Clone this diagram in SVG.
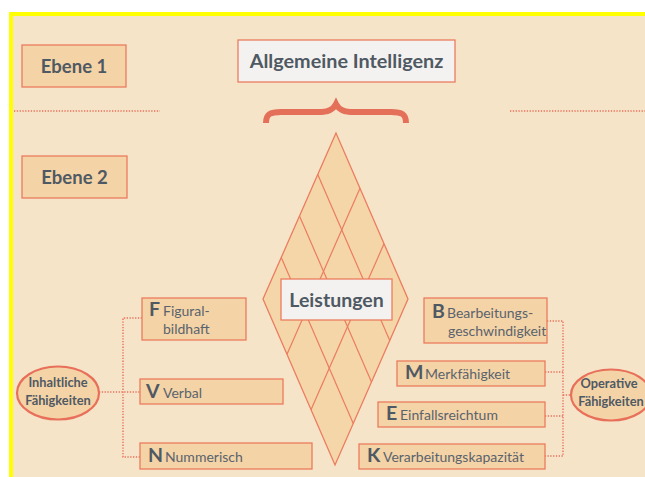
<svg xmlns="http://www.w3.org/2000/svg" width="645" height="477" viewBox="0 0 645 477">
  <style>
    .box { fill: #f4d3a6; stroke: #ec7c5f; stroke-width: 1.3; }
    .wbox { fill: #f4f2f0; stroke: #ec7c5f; stroke-width: 1.3; }
    .oval { fill: #f4d3a6; stroke: #e8705a; stroke-width: 2.2; }
    .dot { fill: none; stroke: #e8705a; stroke-width: 1.4; stroke-dasharray: 1.3 1.5; }
    .grid { fill: none; stroke: #ec7c5f; stroke-width: 1.2; }
    .h { font-family: Lato, "Open Sans", sans-serif; font-weight: 700; fill: #4f5963; }
    .t { font-family: Lato, "Open Sans", sans-serif; font-weight: 400; fill: #5a636d; font-size: 14px; }
    .cap { font-family: Lato, "Open Sans", sans-serif; font-weight: 700; fill: #4f5963; font-size: 19.5px; }
  </style>

  <!-- page with yellow frame -->
  <rect x="0" y="0" width="645" height="477" fill="#ffffff"/>
  <rect x="9" y="12" width="636" height="465" fill="#ffff00"/>
  <rect x="13" y="16" width="632" height="461" fill="#f6e4c9"/>

  <!-- level separators -->
  <g id="separators">
    <line class="dot" x1="14" y1="111" x2="160" y2="111"/>
    <line class="dot" x1="510" y1="111" x2="645" y2="111"/>
  </g>

  <g id="ebene1">
    <rect class="box" x="22" y="45" width="104" height="42"/>
    <text class="h" x="74" y="72.5" font-size="18.5" text-anchor="middle">Ebene 1</text>
  </g>

  <g id="ebene2">
    <rect class="box" x="22" y="156" width="105" height="42"/>
    <text class="h" x="74.5" y="183.5" font-size="18.5" text-anchor="middle">Ebene 2</text>
  </g>

  <g id="allgemeine-intelligenz">
    <rect class="wbox" x="238" y="40" width="217" height="42"/>
    <text class="h" x="346.5" y="68" font-size="19.8" text-anchor="middle">Allgemeine Intelligenz</text>
  </g>

  <!-- curly brace under the top node -->
  <g id="brace">
    <path d="M266 123 C266 114 270 112 281 112 L318 112 C328 112 333 110 336 104 C339 110 344 112 354 112 L391 112 C402 112 406 114 406 123"
          fill="none" stroke="#e4705a" stroke-width="6"/>
  </g>

  <!-- performance diamond: 4 x 3 rhombus grid -->
  <g id="diamond">
    <polygon points="336,133 263,299 335,465 408,299" fill="#f5d6a8" stroke="#ec7c5f" stroke-width="1.3"/>
    <!-- lines parallel to the upper right edge -->
    <line class="grid" x1="317.75" y1="174.5" x2="389.75" y2="340.5"/>
    <line class="grid" x1="299.5" y1="216" x2="371.5" y2="382"/>
    <line class="grid" x1="281.25" y1="257.5" x2="353.25" y2="423.5"/>
    <!-- lines parallel to the upper left edge -->
    <line class="grid" x1="360" y1="188.3" x2="287" y2="354.3"/>
    <line class="grid" x1="384" y1="243.7" x2="311" y2="409.7"/>
  </g>

  <g id="leistungen">
    <rect class="wbox" x="281" y="279" width="111" height="41"/>
    <text class="h" x="336.5" y="306.5" font-size="19.5" text-anchor="middle">Leistungen</text>
  </g>

  <!-- dotted connectors -->
  <g id="connectors">
    <path class="dot" d="M142 318 H123 V457 H140"/>
    <path class="dot" d="M99 392 H140"/>
    <path class="dot" d="M547 321 H563 V456 H545"/>
    <path class="dot" d="M545 372 H563"/>
    <path class="dot" d="M545 416 H563"/>
    <path class="dot" d="M563 395 H572"/>
  </g>

  <g id="inhaltliche">
    <ellipse class="oval" cx="58" cy="393" rx="41" ry="26.5"/>
    <text class="h" x="58" y="387" font-size="12.8" text-anchor="middle">Inhaltliche</text>
    <text class="h" x="58" y="405" font-size="12.8" text-anchor="middle">Fähigkeiten</text>
  </g>

  <g id="operative">
    <ellipse class="oval" cx="611" cy="395" rx="40" ry="25.5"/>
    <text class="h" x="609" y="388" font-size="12.8" text-anchor="middle">Operative</text>
    <text class="h" x="611" y="406" font-size="12.8" text-anchor="middle">Fähigkeiten</text>
  </g>

  <g id="figural">
    <rect class="box" x="142" y="298" width="104" height="42"/>
    <text class="cap" x="149" y="316">F</text>
    <text class="t" x="163" y="316">Figural-</text>
    <text class="t" x="163" y="334">bildhaft</text>
  </g>

  <g id="verbal">
    <rect class="box" x="140" y="379" width="143" height="25"/>
    <text class="cap" x="146" y="398">V</text>
    <text class="t" x="163" y="398">Verbal</text>
  </g>

  <g id="nummerisch">
    <rect class="box" x="140" y="443" width="172" height="26"/>
    <text class="cap" x="148" y="462">N</text>
    <text class="t" x="165" y="462">Nummerisch</text>
  </g>

  <g id="bearbeitung">
    <rect class="box" x="424" y="298" width="123" height="45"/>
    <text class="cap" x="432" y="318">B</text>
    <text class="t" x="447" y="318">Bearbeitungs-</text>
    <text class="t" x="448" y="336">geschwindigkeit</text>
  </g>

  <g id="merkfaehigkeit">
    <rect class="box" x="397" y="361" width="148" height="25"/>
    <text class="cap" x="405" y="379">M</text>
    <text class="t" x="425" y="379">Merkfähigkeit</text>
  </g>

  <g id="einfallsreichtum">
    <rect class="box" x="378" y="402" width="167" height="25"/>
    <text class="cap" x="386" y="420">E</text>
    <text class="t" x="400" y="420">Einfallsreichtum</text>
  </g>

  <g id="verarbeitung">
    <rect class="box" x="359" y="444" width="186" height="25"/>
    <text class="cap" x="367" y="462">K</text>
    <text class="t" x="383" y="462">Verarbeitungskapazität</text>
  </g>
</svg>
